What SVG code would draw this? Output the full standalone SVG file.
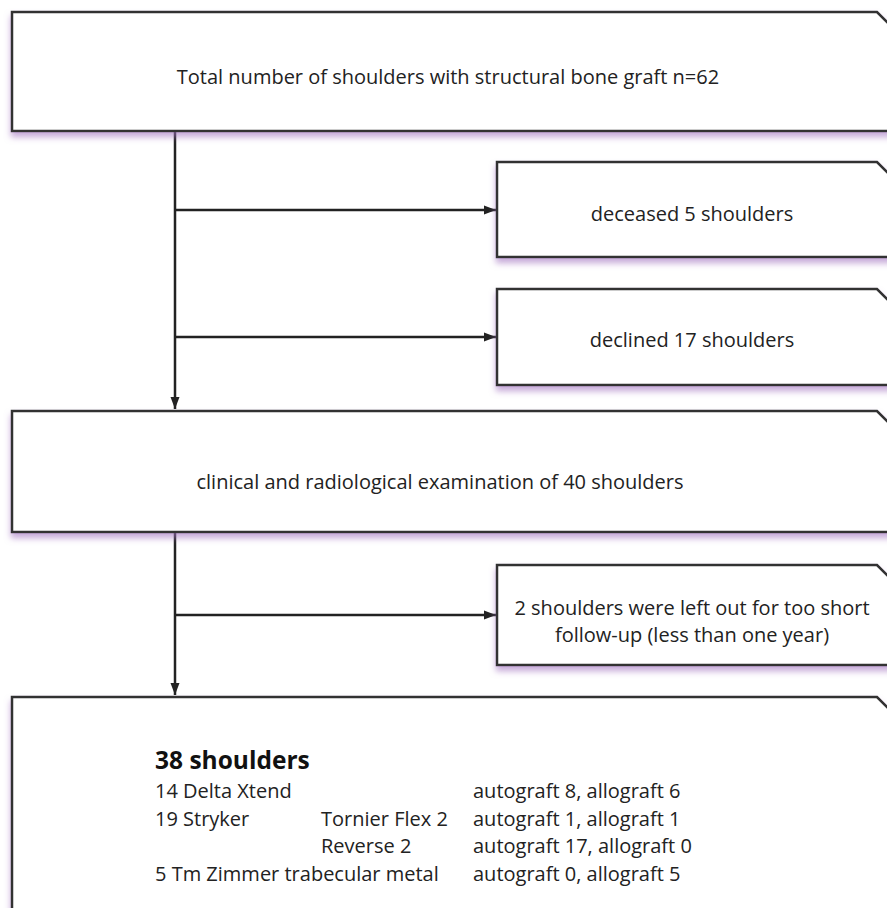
<svg xmlns="http://www.w3.org/2000/svg" width="887" height="908" viewBox="0 0 887 908">
<style>
.box{fill:#fff;stroke:#333;stroke-width:2.5;filter:url(#sh)}
.ln{fill:none;stroke:#222;stroke-width:2.5}
.t{font-family:"Open Sans","Liberation Sans",sans-serif;font-size:20px;fill:#222}
.c{text-anchor:middle}
.b{font-weight:bold;font-size:24.5px;fill:#111}
</style>
<defs>
<filter id="sh" x="-5%" y="-10%" width="115%" height="130%">
<feDropShadow dx="0" dy="5" stdDeviation="3" flood-color="#a070c0" flood-opacity="0.6"/>
</filter>
<marker id="ar" viewBox="0 0 12 10" refX="12" refY="5" markerWidth="12" markerHeight="10" markerUnits="userSpaceOnUse" orient="auto">
<path d="M0,0.5 L12,5 L0,9.5 z" fill="#222"/>
</marker>
</defs>
<g id="connectors">
<path class="ln" d="M175,131 V409" marker-end="url(#ar)"/>
<path class="ln" d="M175,210 H496" marker-end="url(#ar)"/>
<path class="ln" d="M175,337 H496" marker-end="url(#ar)"/>
<path class="ln" d="M175,532 V695" marker-end="url(#ar)"/>
<path class="ln" d="M175,615 H496" marker-end="url(#ar)"/>
</g>
<g id="n1">
<path class="box" d="M12,12 H877 L907,42 V131 H12 Z"/>
<text class="t c" x="448" y="84">Total number of shoulders with structural bone graft n=62</text>
</g>
<g id="n2">
<path class="box" d="M497,162 H877 L907,192 V257 H497 Z"/>
<text class="t c" x="692" y="221">deceased 5 shoulders</text>
</g>
<g id="n3">
<path class="box" d="M497,289 H877 L907,319 V385 H497 Z"/>
<text class="t c" x="692" y="347">declined 17 shoulders</text>
</g>
<g id="n4">
<path class="box" d="M12,411 H877 L907,441 V532 H12 Z"/>
<text class="t c" x="440" y="489">clinical and radiological examination of 40 shoulders</text>
</g>
<g id="n5">
<path class="box" d="M497,565 H877 L907,595 V665 H497 Z"/>
<text class="t c" x="692" y="615">2 shoulders were left out for too short</text>
<text class="t c" x="692" y="642">follow-up (less than one year)</text>
</g>
<g id="n6">
<path class="box" d="M12,697 H877 L907,727 V930 H12 Z"/>
<text class="t b" x="155" y="769">38 shoulders</text>
<text class="t" x="155" y="798">14 Delta Xtend</text>
<text class="t" x="473" y="798">autograft 8, allograft 6</text>
<text class="t" x="155" y="826">19 Stryker</text>
<text class="t" x="321" y="826">Tornier Flex 2</text>
<text class="t" x="473" y="826">autograft 1, allograft 1</text>
<text class="t" x="321" y="853">Reverse 2</text>
<text class="t" x="473" y="853">autograft 17, allograft 0</text>
<text class="t" x="155" y="881">5 Tm Zimmer trabecular metal</text>
<text class="t" x="473" y="881">autograft 0, allograft 5</text>
</g>
</svg>
